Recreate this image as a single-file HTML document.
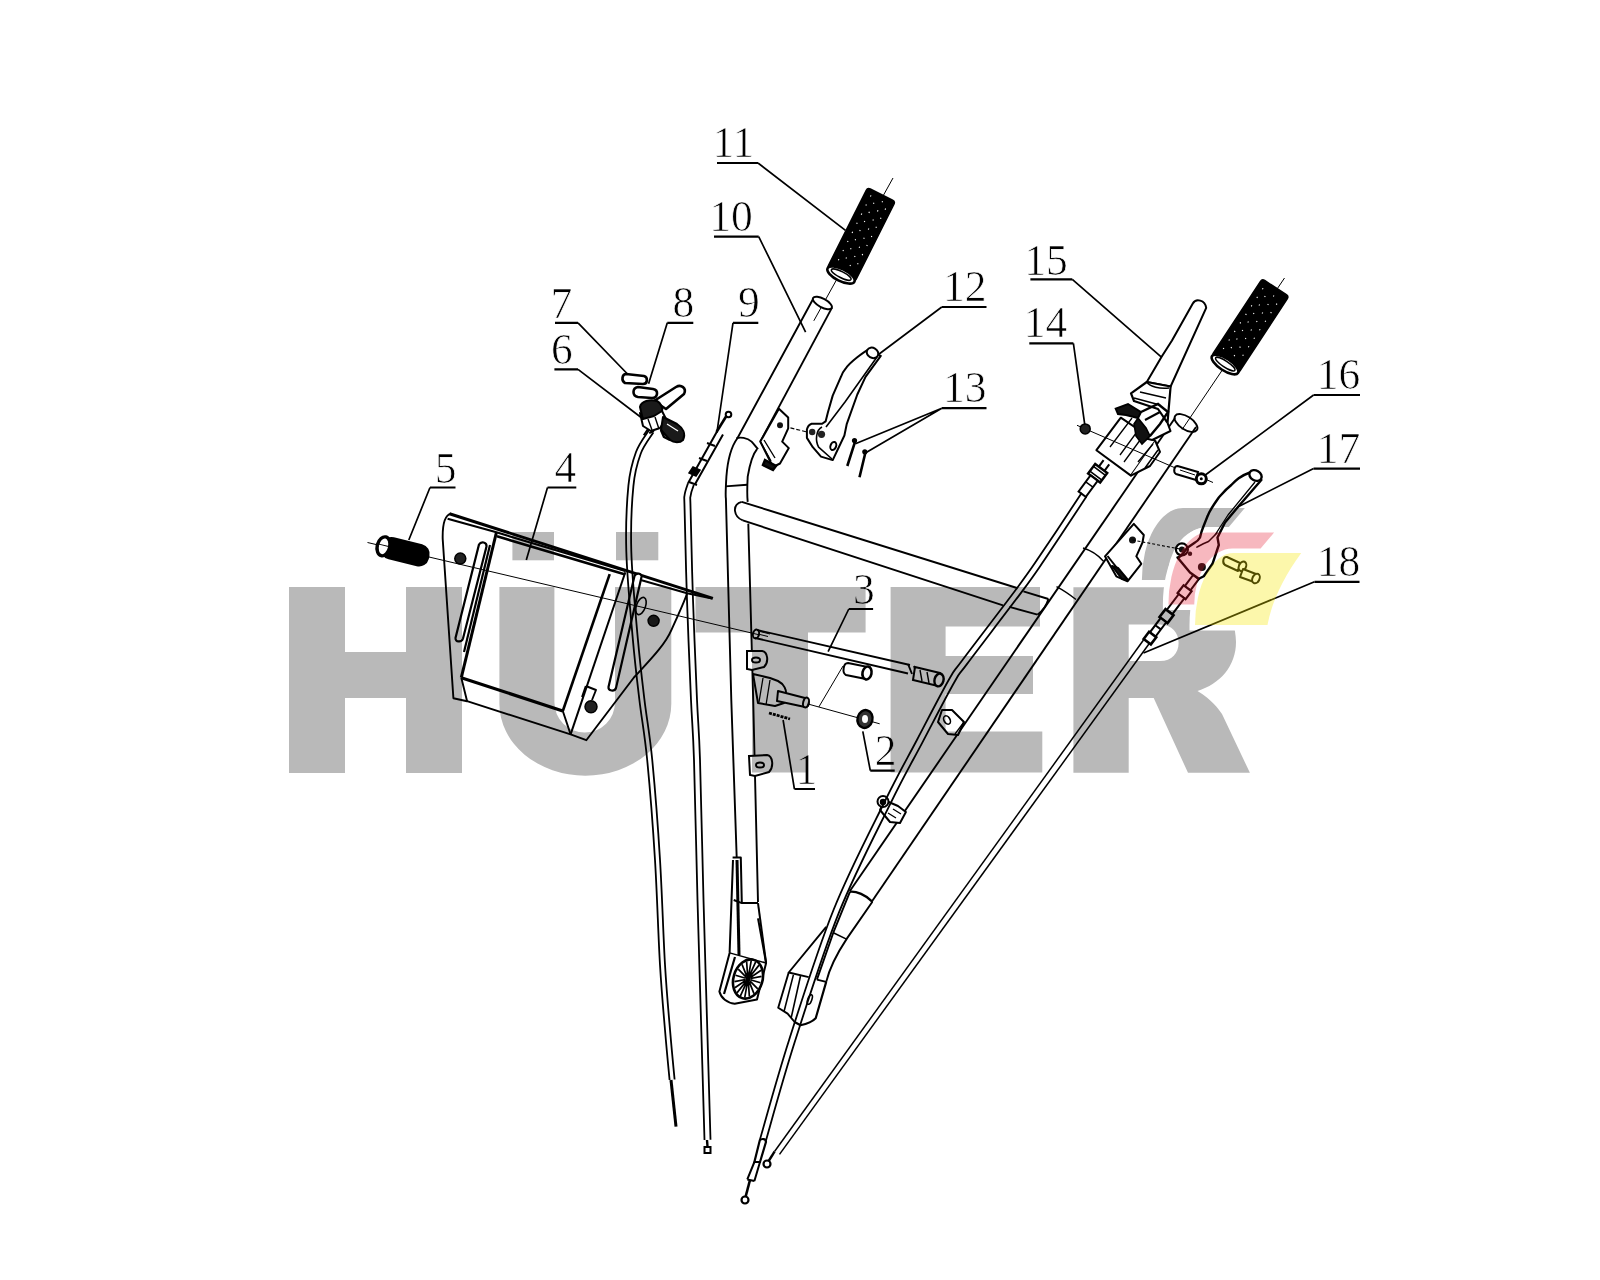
<!DOCTYPE html>
<html><head><meta charset="utf-8"><style>
html,body{margin:0;padding:0;background:#fff;width:1600px;height:1280px;overflow:hidden}
svg{position:absolute;left:0;top:0;display:block}
#draw{mix-blend-mode:multiply}
#tint{mix-blend-mode:normal}
text{font-family:"Liberation Serif",serif;font-size:43.5px;fill:#000;stroke:#fff;stroke-width:0.7px;paint-order:fill}
</style></head><body>
<svg id="base" width="1600" height="1280" viewBox="0 0 1600 1280">
<g fill="#b9b9b9">
<path d="M289,587H345V652H406V587H462V773H406V698H345V773H289Z"/>
<path d="M499.4,587H554.4V702.3A30.3,30.3 0 0 0 615,702.3V587H671.3V703.8A85.9,71.9 0 0 1 499.4,703.8Z"/>
<rect x="512.4" y="532" width="41.6" height="28.3"/>
<rect x="616" y="532" width="42.3" height="28.3"/>
<path d="M695.5,587H865.6V632.4H808V772.5H752V632.4H695.5Z"/>
<path d="M890.6,587H1040V626.4H945.6V656H1033V694H945.6V731.5H1042.3V772.5H890.6Z"/>
<path fill-rule="evenodd" d="M1073.4,587.2H1180C1215,587.2 1236,612 1236,642C1236,666 1220,684 1197.5,691C1212,700 1218,708 1222,714L1249.9,772.8H1188L1153.7,698H1128.7V772.8H1073.4Z M1128.7,624.6H1160C1172,624.6 1178.6,633 1178.6,643C1178.6,653 1172,661.1 1160,661.1H1128.7Z"/>
</g>
<g stroke="#fff" stroke-width="11" paint-order="stroke">
<path fill="#b9b9b9" d="M1141.9,579.9A41.1,72 0 0 1 1183,507.9H1244.9L1228,528.1H1205.5A38.25,51.8 0 0 0 1167.25,579.9Z"/>
<path fill="#fff" d="M1168.4,604.6A39.35,72 0 0 1 1207.75,532.6H1274.1L1260.6,548.4H1232.5A38.25,56.2 0 0 0 1194.25,604.6Z"/>
<path fill="#fff" d="M1195,625A38.6,72.1 0 0 1 1233.6,552.9H1301.25C1285,575 1272,600 1267.5,625Z"/>
</g>

</svg>

<svg id="draw" width="1600" height="1280" viewBox="0 0 1600 1280">
<g id="labels">
<text x="712.4" y="156.7">11</text>
<text x="709.3" y="231.1">10</text>
<text x="550.4" y="317.9">7</text>
<text x="672.6" y="317.4">8</text>
<text x="738.1" y="317.4">9</text>
<text x="550.9" y="364.3">6</text>
<text x="434.8" y="482.9">5</text>
<text x="554.4" y="482.2">4</text>
<text x="943" y="300.6">12</text>
<text x="943" y="402.3">13</text>
<text x="1024.2" y="274.5">15</text>
<text x="1023.7" y="336.9">14</text>
<text x="1316.7" y="389.1">16</text>
<text x="1316.7" y="463.3">17</text>
<text x="1316.8" y="575.8">18</text>
<text x="853" y="603.5">3</text>
<text x="874.7" y="765">2</text>
<text x="795.5" y="784">1</text>
</g>
<g id="leaders" fill="none" stroke="#000" stroke-width="1.7">
<path stroke-width="2.2" d="M717,163H758 M714,236.6H758.7 M555,322.8H578 M667.3,322.8H693.3 M733,322.8H758.3 M554.4,369.4H578 M430,487.5H455.5 M547.5,487.5H576.3 M941.8,307H986.5 M941.8,408.2H986.5 M1030.4,279.4H1072.3 M1029.3,343.3H1073.4 M1313.6,395H1360 M1313.6,468.6H1360 M1314.5,581.8H1359.5 M848.8,609H873.1 M870.3,770.6H894.7 M794.4,789H815"/>
<path d="M758,163L845.5,230.3 M758.7,236.6L805.6,332 M578,322.8L627.5,374 M667.3,322.8L648.6,383.7 M733,322.8L716.9,432.5 M578,369.4L640.5,417 M430,487.5L408.8,540 M547.5,487.5L526.3,560 M941.8,307L878.8,354.3 M941.8,408.2L855.4,443.7 M941.8,408.2L863.6,453.9 M1072.3,279.4L1166.3,361.4 M1073.4,343.3L1084.8,424.8 M1313.6,395L1202.6,477 M1313.6,468.6L1234.3,508.7 M1314.5,581.8L1143.5,653 M848.8,609L828.1,651.6 M870.3,770.6L862.8,731.3 M794.4,789L783.1,720"/>
</g>
<!-- ===== Grip 11 ===== -->
<path d="M893,178L813.8,320.8" stroke="#000" stroke-width="1" fill="none"/>
<g transform="translate(841,275) rotate(-63.3)">
<rect x="0" y="-15.5" width="90" height="31" rx="3" fill="#000" stroke="#000" stroke-width="1.5"/>
<g stroke="#fff" stroke-width="1.1" stroke-dasharray="1.2 9">
<path d="M12,-9H86 M17,-3H86 M12,4H86 M17,10H86"/>
</g>
<ellipse cx="0" cy="0" rx="6" ry="15" fill="#fff" stroke="#000" stroke-width="2.6"/>
<ellipse cx="0.5" cy="0" rx="3" ry="11" fill="none" stroke="#000" stroke-width="1.5"/>
</g>
<!-- ===== Tube 10 ===== -->
<g fill="none" stroke="#000" stroke-width="1.9">
<ellipse cx="822.4" cy="303" rx="10.6" ry="4.3" transform="rotate(28 822.4 303)" fill="#fff"/>
<path d="M812.8,299.5L737.4,438.3C731,447 727.5,462 726.4,476.6C725.6,490 725.8,498 725.9,498.5L731.3,700L736.7,857.5"/>
<path d="M832,307.6L760.3,441.6"/>
<path d="M757,449.2C753,454 749.5,466 747.7,476.6C747,490 747.5,500 747.7,501.8"/>
<path d="M748.3,523.6L753.2,700L758,902"/>
<path d="M736.3,438.3C740,437 747,437.5 751.6,441.6C754,444 756,447 758.1,449.2"/>
<path d="M725.3,486.4L747.2,484.8"/>

</g>
<!-- crossbar -->
<g fill="none" stroke="#000" stroke-width="1.9">
<path d="M741.7,501.8C737,503 734.5,506 735,511C735.5,515 738,518.5 742.8,520.4"/>
<path d="M741.7,501.8L1017,588 M1023.4,591.3L1048.4,599"/>
<path d="M742.8,520.4L1003,605.3 M1009.4,606.9L1037.5,614.7"/>
<path d="M1048.4,599C1047,604 1045,609 1037.5,614.7"/>
</g>
<!-- ===== Right tube ===== -->
<g fill="none" stroke="#000" stroke-width="1.9">
<ellipse cx="1186" cy="423" rx="13" ry="6.5" transform="rotate(33 1186 423)" fill="#fff"/>
<path d="M1175,418L849.7,891.2"/>
<path d="M1196,427L871.5,902"/>
<path d="M1083,548C1090,550 1098,555 1103.5,561.2" stroke-width="1.4"/>
<path d="M1056.5,586.6C1063,590 1069,594 1076,599.5" stroke-width="1.4"/>
</g>
<!-- ===== Cable 18 ===== -->
<g fill="none" stroke="#000" stroke-width="1.5">
<path d="M774.7,1151.3L1143.5,640"/>
<path d="M779.5,1154.4L1150,642.5"/>
</g>
<!-- ===== Plate 4 ===== -->
<g fill="none" stroke="#000" stroke-width="1.9" stroke-linejoin="round">
<path d="M449.5,513.7L712.9,598.4" stroke-width="3"/>
<path d="M447.6,518.8L496.4,532.3L625.3,571" stroke-width="2.2"/>
<path d="M497,536.3L625.3,574.5" stroke-width="2.6"/>
<path d="M639,579.5L687.1,593.3L712,598.5" stroke-width="2"/>
<path d="M451,513.6C445,515 442.3,522 442.7,539L453.4,698.2L467.1,701.2L570.6,734.4L586.3,740.2L633.9,677.5C650,660 665,645 671.7,629.3C678,615 684,603 687.1,593.3"/>
<path d="M496.4,532.5L461.3,677.7" stroke-width="3"/>
<path d="M490,545L464,652" stroke-width="2.2"/>
<path d="M461.3,677.7L562.8,711" stroke-width="3.2"/>
<path d="M609.7,574.2L562.8,711" stroke-width="2.6"/>
<path d="M625.3,572.3L570.6,734.4" stroke-width="2"/>
<path d="M461.3,677.7L467.1,701.2 M562.8,711L570.6,734.4"/>
<path d="M585.8,686L596,690L592,700 M585.8,686L582,697"/>
</g>
<g fill="#fff" stroke="#000" stroke-width="2.2">
<path d="M479,544.5C481,541 487,542 486.5,546.5L463,638.5C461.5,643 455,642 455.5,638Z"/>
<path d="M634.5,576C636,572.5 642,573 641.5,577L616,688C614.5,692 608,691 608.5,687Z"/>
</g>
<g fill="#222" stroke="#000" stroke-width="1.5">
<circle cx="460.3" cy="558.6" r="5.5"/>
<circle cx="653.6" cy="620.8" r="5.5"/>
<circle cx="591" cy="706.7" r="6"/>
</g>
<ellipse cx="641" cy="606" rx="4.5" ry="9" transform="rotate(20 641 606)" fill="none" stroke="#000" stroke-width="1.6"/>
<!-- axis line grip5 to rod3 -->
<path d="M367.5,542.5L760,635" stroke="#000" stroke-width="1" fill="none"/>
<!-- ===== Grip 5 ===== -->
<g transform="translate(383.5,546.3) rotate(14)">
<rect x="-2" y="-11.3" width="49" height="22.6" rx="10" fill="#000"/>
<ellipse cx="0" cy="0" rx="8" ry="11.3" fill="#000"/>
<ellipse cx="0" cy="0" rx="4.5" ry="8" fill="#fff"/>
<path d="M-5,-1H5" stroke="#000" stroke-width="1"/>
</g>
<!-- ===== Parts 6,7,8 ===== -->
<g fill="#fff" stroke="#000" stroke-width="2.6" stroke-linejoin="round">
<path d="M626,374C622,374 621,381 625,383L643,384C648,384 648,377 644,376Z"/>
<path d="M638,387C632,388 632,396 638,397L652,398C658,398 659,390 653,389Z"/>
<path d="M654,401L676,387C681,384 687,388 684,394L666,409Z"/>
</g>
<path d="M641,378H641" stroke="#000"/>
<g stroke="#000" stroke-width="2" stroke-linejoin="round">
<path d="M640,407C641,401 650,399 657,401C661,403 663,408 662,412L655,417L643,420Z" fill="#1a1a1a"/>
<path d="M640,413L643,426L651,431L660,428L666,419L662,411L654,416L643,419Z" fill="#fff"/>
<path d="M648,419L652,430 M655,417L659,429" fill="none" stroke-width="1.4"/>
<path d="M663,417L677,424C683,428 686,434 683,440C680,443 674,443 670,440L661,430Z" fill="#1a1a1a"/>
<path d="M667,424L678,431" fill="none" stroke="#fff" stroke-width="1.2"/>
<path d="M661,430L664,437L670,440" fill="none" stroke-width="2.5"/>
</g>
<!-- cable 9 top fitting -->
<g fill="none" stroke="#000" stroke-width="2">
<path d="M688,483.3L717,431.5 M695,484.2L723,434.5"/>
<path d="M716.5,432L727,415" stroke-width="2.6"/>
<circle cx="728.5" cy="414.5" r="2.8" fill="#fff" stroke-width="2"/>
<path d="M707,443L715,446 M699,458L707,461 M689,482L697,485" stroke-width="2"/>
<path d="M693,467L700,470L696,476L689,473Z" fill="#000" stroke-width="1.5"/>
</g>
<!-- cable 6 top -->
<g fill="none" stroke="#000" stroke-width="2">
<path d="M648,429L643.8,435.3 M654,431L649.2,433"/>
</g>
<!-- ===== Part 3 rod and 1,2 ===== -->
<g fill="none" stroke="#000" stroke-width="1.9">
<path d="M757,630L910,665 M755,638L908,673.5"/>
<ellipse cx="756" cy="634" rx="3" ry="4.5" transform="rotate(13 756 634)"/>
<path d="M760,631.5L770,634 M760,634.5L768,636.5" stroke-width="1"/>
<path d="M908,664L912,674 M914,666L917,675"/>
<path d="M915,667L940,673C944,675 944,686 938,686L913,680Z" fill="#fff" stroke-width="2"/>
<ellipse cx="939" cy="680" rx="4.5" ry="6.5" transform="rotate(15 939 680)" fill="#fff" stroke-width="2.4"/>
<path d="M920,670L922,681 M927,672L929,683" stroke-width="1.4"/>
</g>
<!-- spacer -->
<g fill="#fff" stroke="#000" stroke-width="2">
<path d="M848,663L868,667L866,679L846,675C842,673 843,663 848,663Z"/>
<ellipse cx="867" cy="673" rx="4.5" ry="6.5" transform="rotate(12 867 673)" stroke-width="2.6"/>
</g>
<path d="M843,666L818.8,707" fill="none" stroke="#000" stroke-width="1"/>
<!-- bolt block on tube -->
<g fill="#fff" stroke="#000" stroke-width="2" stroke-linejoin="round">
<path d="M753,674L770,678L778,681C784,684 787,690 786,696L784,703L775,706L758,703Z"/>
<path d="M763,678L759,702 M770,680L766,705" stroke-width="1.3"/>
<path d="M778,691L805,698C810,700 810,707 805,707L777,701Z"/>
<ellipse cx="806" cy="702.5" rx="2.8" ry="5" transform="rotate(15 806 702.5)"/>
</g>
<path d="M808,704L879.7,723.8" fill="none" stroke="#000" stroke-width="1"/>
<ellipse cx="865" cy="719" rx="7.5" ry="9" transform="rotate(15 865 719)" fill="#333" stroke="#000" stroke-width="2.4"/>
<ellipse cx="865" cy="719" rx="3" ry="4" fill="#fff"/>
<path d="M769,713L790,719" stroke="#000" stroke-width="2.8" stroke-dasharray="3 1"/>
<!-- clips on tube 10 -->
<g fill="#fff" stroke="#000" stroke-width="2">
<path d="M747,651L762,651C768,652 769,662 764,667L752,670L747,669Z"/>
<ellipse cx="756" cy="660" rx="4" ry="2.5" stroke-width="2"/>
<path d="M749,756L767,755C773,756 774,767 769,772L755,776L750,775Z"/>
<ellipse cx="760" cy="765" rx="4" ry="2.5" stroke-width="2"/>
</g>
<!-- ===== Lever 12 ===== -->
<g fill="#fff" stroke="#000" stroke-width="2" stroke-linejoin="round">
<path d="M867.9,349.9C864,352 850,362 845.6,368.7C842,373 840.9,376.9 840.9,376.9L832.7,395.6L828,412L825.6,421.4L822.1,423.8L811.6,423.8C808,425 806.9,429.6 806.9,429.6L806.9,437.9L812.8,447.2L821,456.6L832.7,460.1L844.4,435.5L846.8,423.8L857.3,394.5L865.5,376.9L880.8,355.8Z"/>
<path d="M877,357L845,402L826,427 M822,427C816,430 815,440 818.6,447.2L832,459" fill="none" stroke-width="1.6"/>
<ellipse cx="872.5" cy="352.9" rx="6" ry="5" transform="rotate(30 872.5 352.9)"/>
</g>
<g fill="#222"><circle cx="812.2" cy="432" r="3.2"/><circle cx="821.5" cy="434.3" r="3.6"/></g>
<ellipse cx="833.3" cy="446" rx="2.8" ry="4.2" transform="rotate(20 833.3 446)" fill="none" stroke="#000" stroke-width="2"/>
<path d="M778.8,425L806.9,432" stroke="#000" stroke-width="1.1" stroke-dasharray="4 2" fill="none"/>
<!-- pins 13 -->
<path d="M855.4,440.7L847.3,466 M865.6,451.8L859.5,477.2" stroke="#000" stroke-width="2.6" fill="none"/>
<circle cx="854.5" cy="440.5" r="2.6" fill="#000"/><circle cx="864.8" cy="451.8" r="2.6" fill="#000"/>
<!-- bracket on tube 10 -->
<g fill="#fff" stroke="#000" stroke-width="2" stroke-linejoin="round">
<path d="M778.9,408.8L788.2,417.5L788.2,428.4L782.2,441.6L788.8,448.1L780,463.5L773,467L760.3,441.6Z"/>
<path d="M760.3,441.6L771,461 M764,440L775,458" fill="none" stroke-width="1.4"/>
</g>
<circle cx="780" cy="425.2" r="3" fill="#111"/>
<path d="M765,460L776,466L773,470L763,465Z" fill="#111" stroke="#000" stroke-width="2.5"/>
<!-- tube 10 foot -->
<g fill="none" stroke="#000" stroke-width="2" stroke-linejoin="round">
<path d="M732.6,857.5L740.8,857.5L741.8,903.1"/>
<path d="M737,860L739,955" stroke-width="3"/>
<path d="M733.7,900L741.8,903.1L758,903.1"/>
<path d="M733,860L729.6,952.9L719.4,991.5C721,998 727,1003 734.7,1003.7L757,999.6L766.1,963L758,918.4"/>
<path d="M758,903.1L766.1,963"/>
<path d="M729.6,952.9L766,963" stroke-width="1.5"/>
</g>
<g transform="translate(748,979) rotate(17)">
<ellipse rx="14.5" ry="20" fill="#fff" stroke="#000" stroke-width="2.6"/>
<path d="M2.5,0.0L13.0,0.0 M2.3,1.2L12.2,6.5 M1.9,2.2L10.0,12.2 M1.3,3.0L6.5,16.5 M0.4,3.4L2.3,18.7 M-0.4,3.4L-2.3,18.7 M-1.2,3.0L-6.5,16.5 M-1.9,2.2L-10.0,12.2 M-2.3,1.2L-12.2,6.5 M-2.5,0.0L-13.0,0.0 M-2.3,-1.2L-12.2,-6.5 M-1.9,-2.2L-10.0,-12.2 M-1.3,-3.0L-6.5,-16.5 M-0.4,-3.4L-2.3,-18.7 M0.4,-3.4L2.3,-18.7 M1.2,-3.0L6.5,-16.5 M1.9,-2.2L10.0,-12.2 M2.3,-1.2L12.2,-6.5" stroke="#000" stroke-width="1.7"/>
<ellipse rx="2.5" ry="5" fill="#000"/>
</g>
<path d="M735,957L724,994" stroke="#000" stroke-width="2.2" fill="none"/>
<!-- ===== Right tube lower + bracket ===== -->
<g fill="none" stroke="#000" stroke-width="1.9" stroke-linejoin="round">
<path d="M850,891.7C856,891 866,895 872.4,901.8" stroke-width="2.4"/>
<path d="M850,891.7L833.3,932.7L816.9,979.6"/>
<path d="M872.4,901.8L847,938.4C838,952 830,966 826.2,981.9"/>
<path d="M833.3,932.7L847,939.4" stroke-width="1.6"/>
<path d="M826.2,926.9L788.7,972.5L808.7,977.2 M816.9,979.6L826.2,981.9"/>
<path d="M788.7,972.5L778.2,1007.7L787.6,1013.6L794.6,1022"/>
<path d="M826.2,981.9L815.7,1018.2C812,1022 806,1024 800.5,1025.2L794.6,1022" stroke-width="2.2"/>
<path d="M793.4,974.9L784.1,1011.2 M800.5,976L791.1,1018.2" stroke-width="1.6"/>
<ellipse cx="809.8" cy="999.5" rx="2" ry="5" transform="rotate(20 809.8 999.5)" stroke-width="1.6"/>
</g>
<!-- clips on cable -->
<g fill="#fff" stroke="#000" stroke-width="2" stroke-linejoin="round">
<path d="M884,800L898,806L905.9,812L900,823L890,822L880,810Z"/>
<path d="M888,813L896,818 M893,809L901,814" fill="none" stroke-width="1.3"/>
<circle cx="883" cy="801.5" r="5.5"/>
<circle cx="883" cy="802" r="2.2" fill="#000"/>
<path d="M942,710L952,710L964,722L958,735L948,734L938,722Z"/>
<ellipse cx="947" cy="720" rx="3" ry="4.5" transform="rotate(-30 947 720)" stroke-width="1.6"/>
<path d="M955,734L964,722" fill="none" stroke-width="1.3"/>
</g>
<!-- ===== Cable 18 fittings & ends ===== -->
<g transform="translate(1196,577) rotate(127)" fill="#fff" stroke="#000" stroke-width="2">
<rect x="0" y="-3.5" width="14" height="7"/>
<rect x="14" y="-5" width="10" height="10" stroke-width="2.2"/>
<rect x="24" y="-3.5" width="20" height="7"/>
<rect x="44" y="-5" width="10" height="10" stroke-width="2.6"/>
<rect x="54" y="-3.5" width="18" height="7"/>
<path d="M63,-3.5V3.5"/>
<rect x="72" y="-4.5" width="9" height="9" stroke-width="2.6"/>
</g>
<g fill="none" stroke="#000" stroke-width="2">
<path d="M774.7,1151.3L768,1162" stroke-width="2.4"/>
<circle cx="767" cy="1164" r="3.5" fill="#fff" stroke-width="2.2"/>
<path d="M759.8,1140.3C762,1138 766,1139 766,1141.9L760,1162L754.4,1162Z" fill="#fff" stroke-width="2.2"/>
<path d="M754.4,1162L747.3,1179.4 M760,1162L754.4,1181 M747.3,1179.4L754.4,1181"/>
<path d="M750,1180L745,1199" stroke-width="2.6"/>
<circle cx="745" cy="1200" r="3.5" fill="#fff" stroke-width="2.2"/>
<path d="M707,1140L707.6,1148" stroke-width="2.4"/>
<rect x="704.5" y="1147" width="6" height="6" fill="#fff" stroke-width="2"/>
</g>
<!-- ===== Grip right ===== -->
<path d="M1284.5,278L1182.2,429.4" stroke="#000" stroke-width="1" fill="none"/>
<g transform="translate(1225,364.5) rotate(-56.7)">
<rect x="0" y="-16" width="92" height="32" rx="3" fill="#000" stroke="#000" stroke-width="1.5"/>
<g stroke="#fff" stroke-width="1.1" stroke-dasharray="1.2 9"><path d="M12,-10H88 M17,-4H88 M12,3H88 M17,10H88"/></g>
<ellipse cx="0" cy="0" rx="6" ry="15.5" fill="#fff" stroke="#000" stroke-width="2.6"/>
<ellipse cx="0.5" cy="0" rx="3" ry="11.5" fill="none" stroke="#000" stroke-width="1.5"/>
</g>
<!-- ===== Lever 15 + housing ===== -->
<g fill="#fff" stroke="#000" stroke-width="2" stroke-linejoin="round">
<path d="M1192.8,303.4C1196,298 1205,300 1206.2,307.8L1170.6,386.5L1146.8,382L1161.6,356.8L1172,340.5Z"/>
<path d="M1146.8,382L1131,393.4L1134,401L1158,409L1167.5,422.8L1170.6,386.5Z" stroke-width="2.2"/>
<path d="M1134,398L1160,405 M1140,392L1166,398" fill="none" stroke-width="1.6"/>
<path d="M1146.8,382C1150,387 1160,389 1169,388" fill="none" stroke-width="1.5"/>
<path d="M1096.4,450.2L1120.8,417.7L1155.3,441L1130.9,475.6Z"/>
<path d="M1136,436L1152.2,440L1170.5,431L1167.5,422.8"/>
<path d="M1130.9,475.6L1150,466L1160,452L1155.3,441" />
<path d="M1110,447L1132,418 M1120,455L1142,425 M1124,462L1146,432" fill="none" stroke-width="1.3"/>
<path d="M1138,462L1153,444 M1145,468L1158,450" fill="none" stroke-width="1.5"/>
</g>
<path d="M1115.7,408.6L1128,404L1141,412L1138,418L1126,415L1118,414Z" fill="#111" stroke="#000" stroke-width="2"/>
<path d="M1138,418L1146,428L1150,436L1142,444L1136,436L1134,424Z" fill="#111" stroke="#000" stroke-width="1.6"/>
<path d="M1141,412L1158,404L1168,412L1160,424L1150,436" fill="none" stroke="#000" stroke-width="2.4"/>
<path d="M1145,420L1160,412" fill="none" stroke="#000" stroke-width="2"/>
<g transform="translate(1106,462) rotate(126.5)" fill="#fff" stroke="#000" stroke-width="2">
<path d="M0,-4H8 M0,3H8" stroke-width="2"/>
<rect x="8" y="-7.5" width="12" height="15" stroke-width="2.4"/>
<path d="M11,-7.5V7.5 M17,-7.5V7.5" stroke-width="1.6"/>
<rect x="20" y="-4.5" width="20" height="9" stroke-width="2"/>
<path d="M28,-4.5V4.5" stroke-width="1.4"/>
</g>
<!-- nut 14 + axis + bolt 16 -->
<path d="M1077,425.3L1176.6,468.5 M1205,479L1213,482.5" stroke="#000" stroke-width="1" fill="none"/>
<circle cx="1085.2" cy="428.9" r="5" fill="#222" stroke="#000" stroke-width="1.5"/>
<g fill="#fff" stroke="#000" stroke-width="2">
<path d="M1177.5,466L1198,472L1196,480L1176,474C1173,472 1174,466 1177.5,466Z"/>
<path d="M1180,470L1195,475" fill="none" stroke-width="1"/>
</g>
<circle cx="1201.3" cy="478.8" r="5" fill="#fff" stroke="#000" stroke-width="3"/><circle cx="1201.3" cy="478.8" r="1.5" fill="#000"/>
<!-- ===== Lever 17 ===== -->
<g fill="#fff" stroke="#000" stroke-width="2.4" stroke-linejoin="round">
<path d="M1250,472.5C1240,476 1236,480 1231.3,485C1225,490 1222,494 1218.8,497.5C1212,507 1209,512 1207.5,516.3C1204,525 1202,530 1201.3,532.5L1200,537.5C1198,541 1196,542 1195,542.5L1187,548C1182,555 1180,558 1177.5,557.5L1190,572.5L1198.8,578.8L1203.8,576.3L1212.5,563.8L1218.8,545L1217.5,537.5L1225,522.5L1237.5,507.5L1261.3,480Z"/>
<ellipse cx="1255.5" cy="475.5" rx="6.5" ry="5" transform="rotate(30 1255.5 475.5)"/>
<path d="M1196.3,547.5C1200,545 1205,543 1208.8,541.3C1212,538 1215,535 1217.5,532.5" fill="none" stroke-width="1.5"/>
<path d="M1255,482L1228,515L1215,535" fill="none" stroke-width="1.3"/>
</g>
<circle cx="1181.9" cy="549.4" r="6" fill="none" stroke="#000" stroke-width="2.2"/>
<circle cx="1181.9" cy="549.4" r="3" fill="#111"/>
<circle cx="1190" cy="553.8" r="2.2" fill="#111"/>
<circle cx="1201.9" cy="566.9" r="4" fill="#111"/>
<!-- bracket left of 17 -->
<g fill="#fff" stroke="#000" stroke-width="2" stroke-linejoin="round">
<path d="M1105,556.3L1133.8,523.8L1143.8,535L1142.5,542.5L1136.3,556.3L1141.3,563.8L1127.5,581.3L1116.3,576.3Z"/>
<path d="M1107.5,556L1125,578" fill="none"/>
<path d="M1112,566L1122,579L1128,580L1118,568Z" fill="#111"/>
</g>
<circle cx="1132.5" cy="540" r="3.5" fill="#111"/>
<path d="M1132.5,540L1181.9,549.4" stroke="#000" stroke-width="1.1" stroke-dasharray="3 2" fill="none"/>
<!-- bolt in yellow -->
<g fill="#fff" stroke="#000" stroke-width="2" stroke-linejoin="round">
<path d="M1227,557L1240,563L1238,571L1225,565C1222,563 1223,556 1227,557Z"/>
<ellipse cx="1242.5" cy="566.3" rx="3.5" ry="5" transform="rotate(25 1242.5 566.3)"/>
<path d="M1243,569L1256,574L1254,582L1240,577Z"/>
<ellipse cx="1256" cy="578.5" rx="3.5" ry="5" transform="rotate(25 1256 578.5)"/>
</g>

<path fill="none" stroke="#000" stroke-width="1.8" d="M1081,494 C1080.3,495 1083.8,489.7 1077,500 C1070.2,510.3 1049.9,541 1040,555.6 C1030.1,570.2 1030.4,570.1 1017.5,587.5 C1004.6,604.9 974,644.6 962.5,660 C951,675.4 956.3,666.7 948.7,680 C941.1,693.3 927.4,720 916.9,740 C906.4,760 899.4,771.7 885.5,800 C871.6,828.3 849.6,870 833.5,910 C817.4,950 801.4,1001.7 789.1,1040 C776.8,1078.3 764.7,1123.3 759.8,1140"/>
<path fill="none" stroke="#000" stroke-width="1.8" d="M1086,497.3 C1085.3,498.3 1088.8,493.1 1082,503.3 C1075.2,513.6 1054.9,544.3 1045,559 C1035,573.6 1035.3,573.6 1022.3,591.1 C1009.4,608.5 978.7,648.3 967.3,663.6 C955.9,678.9 961.4,669.8 953.9,683 C946.4,696.2 932.7,722.9 922.2,742.8 C911.7,762.7 904.7,774.4 890.9,802.6 C877,830.9 855.1,872.4 839.1,912.2 C823.1,952.1 807.1,1003.6 794.8,1041.8 C782.6,1080.1 770.4,1125 765.6,1141.7"/>
<path fill="none" stroke="#000" stroke-width="1.8" d="M649,430 C646.8,433.7 639.4,442.7 636,452 C632.6,461.3 630,469.1 628.4,485.6 C626.8,502.2 625.6,525.8 626.3,551.3 C627,576.8 630.6,614 632.8,638.8 C635,663.6 637,679.8 639.4,700 C641.8,720.2 644.6,733.3 647.2,760 C649.8,786.7 652.9,825.8 655,860 C657.1,894.2 658.3,936.7 660,965 C661.7,993.3 663.4,1010.8 665,1030 C666.6,1049.2 668.8,1071.7 669.6,1080"/>
<path fill="none" stroke="#000" stroke-width="1.8" d="M653.3,432.5 C651.2,436.1 644,444.8 640.7,453.7 C637.4,462.7 634.9,469.8 633.4,486.1 C631.8,502.3 630.6,525.8 631.3,551.2 C632,576.5 635.6,613.7 637.8,638.4 C640,663.1 642,679.2 644.4,699.4 C646.8,719.6 649.6,732.8 652.2,759.5 C654.8,786.2 657.9,825.5 660,859.7 C662.1,893.9 663.3,936.4 665,964.7 C666.7,993 668.4,1010.4 670,1029.6 C671.6,1048.7 673.8,1071.2 674.6,1079.5"/>
<path fill="none" stroke="#000" stroke-width="3" d="M671,1080L676,1126.7"/>
<path fill="none" stroke="#000" stroke-width="1.8" d="M688,483.3 C687.4,485.2 685.2,490.6 684.6,495 C684,499.4 684.2,492.5 684.6,510 C685,527.5 685.9,568.3 687,600 C688.1,631.7 689.8,673.3 691,700 C692.2,726.7 692.9,726.7 694,760 C695.1,793.3 696.3,856.7 697.5,900 C698.7,943.3 699.8,980 701,1020 C702.2,1060 703.9,1120 704.5,1140"/>
<path fill="none" stroke="#000" stroke-width="1.8" d="M693.8,485 C693.2,486.8 691.1,491.6 690.6,495.8 C690,499.9 690.2,492.5 690.6,509.9 C691,527.2 691.9,568.2 693,599.8 C694.1,631.4 695.8,673.1 697,699.7 C698.2,726.4 698.9,726.5 700,759.8 C701.1,793.2 702.3,856.5 703.5,899.8 C704.7,943.2 705.8,979.8 707,1019.8 C708.2,1059.8 709.9,1119.8 710.5,1139.8"/>
</svg>
<svg id="tint" width="1600" height="1280" viewBox="0 0 1600 1280">
<path fill="#e6142a" fill-opacity="0.3" d="M1168.4,604.6A39.35,72 0 0 1 1207.75,532.6H1274.1L1260.6,548.4H1232.5A38.25,56.2 0 0 0 1194.25,604.6Z"/>
<path fill="#f5e600" fill-opacity="0.33" d="M1195,625A38.6,72.1 0 0 1 1233.6,552.9H1301.25C1285,575 1272,600 1267.5,625Z"/>
</svg>

</body></html>
